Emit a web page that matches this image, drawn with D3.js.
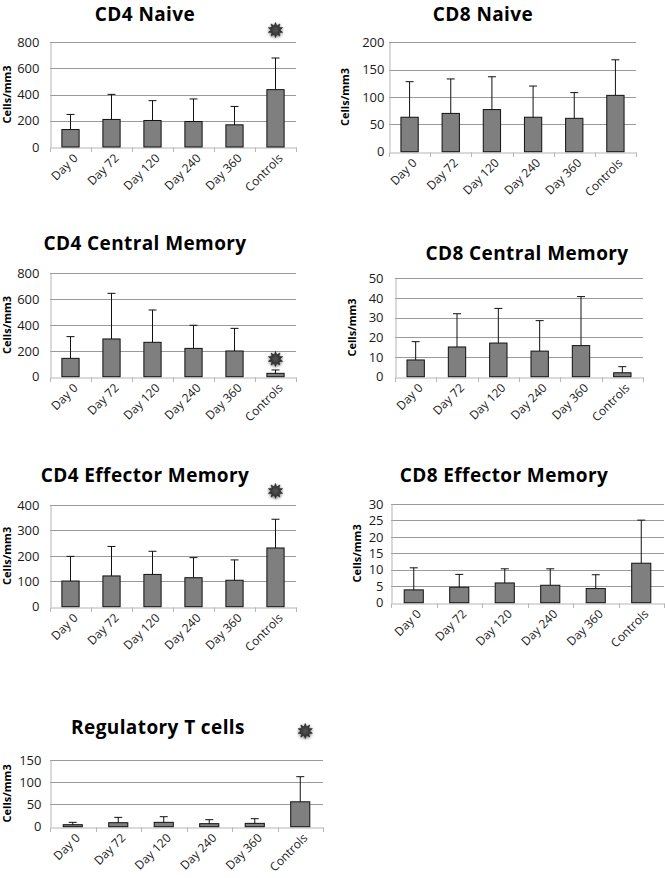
<!DOCTYPE html>
<html><head><meta charset="utf-8">
<script src="https://cdn.jsdelivr.net/npm/d3@7"></script>
<style>
html,body{margin:0;padding:0;background:#fff;}
svg{display:block;}
</style></head>
<body>
<svg id="chart" width="665" height="878"></svg>
<script>
// ---- data ----
const categories = ["Day 0","Day 72","Day 120","Day 240","Day 360","Controls"];
const yLabel = "Cells/mm3";

const cd4NaiveMean = [133, 210, 202, 194, 169, 437];
const cd4NaiveUpper = [248, 401, 353, 366, 309, 678];
const cd4NaiveTicks = [0, 200, 400, 600, 800];

const cd8NaiveMean = [63, 70, 77, 63, 61, 103];
const cd8NaiveUpper = [128, 133, 137, 120, 108, 168];
const cd8NaiveTicks = [0, 50, 100, 150, 200];

const cd4CentralMean = [142, 292, 266, 219, 199, 26];
const cd4CentralUpper = [310, 645, 516, 398, 374, 52];
const cd4CentralTicks = [0, 200, 400, 600, 800];

const cd8CentralMean = [8.5, 15.1, 17.1, 13.0, 15.8, 2.0];
const cd8CentralUpper = [17.8, 32.0, 34.7, 28.5, 40.7, 5.1];
const cd8CentralTicks = [0, 10, 20, 30, 40, 50];

const cd4EffectorMean = [101, 121, 127, 114, 104, 231];
const cd4EffectorUpper = [198, 237, 218, 193, 184, 344];
const cd4EffectorTicks = [0, 100, 200, 300, 400];

const cd8EffectorMean = [3.9, 4.7, 6.0, 5.3, 4.3, 12.0];
const cd8EffectorUpper = [10.6, 8.6, 10.3, 10.3, 8.5, 25.1];
const cd8EffectorTicks = [0, 5, 10, 15, 20, 25, 30];

const tregMean = [4.5, 9, 9.8, 6.8, 7.5, 56];
const tregUpper = [9.8, 21, 22.5, 15.8, 18, 112.5];
const tregTicks = [0, 50, 100, 150];

const titles = ["CD4 Naive","CD8 Naive","CD4 Central Memory","CD8 Central Memory",
                "CD4 Effector Memory","CD8 Effector Memory","Regulatory T cells"];
const significant = [true, false, true, false, true, false, true];

// ---- layout (positions only) ----
const panels = [
  {mean: cd4NaiveMean, upper: cd4NaiveUpper, ticks: cd4NaiveTicks,
   x0: 50, x1: 296, yTop: 42, yBot: 147, tx: 145, ty: 20.5, lx: 7, gap: 11, starY: 30},
  {mean: cd8NaiveMean, upper: cd8NaiveUpper, ticks: cd8NaiveTicks,
   x0: 389, x1: 636, yTop: 42.3, yBot: 151.7, tx: 483, ty: 20.5, lx: 345, gap: 5},
  {mean: cd4CentralMean, upper: cd4CentralUpper, ticks: cd4CentralTicks,
   x0: 50, x1: 296, yTop: 273.3, yBot: 376.7, tx: 145, ty: 249.5, lx: 7, gap: 11, starY: 359},
  {mean: cd8CentralMean, upper: cd8CentralUpper, ticks: cd8CentralTicks,
   x0: 395, x1: 643, yTop: 278.3, yBot: 376.7, tx: 527, ty: 259.5, lx: 352, gap: 12},
  {mean: cd4EffectorMean, upper: cd4EffectorUpper, ticks: cd4EffectorTicks,
   x0: 50, x1: 296, yTop: 505, yBot: 606.7, tx: 145, ty: 481.5, lx: 7, gap: 11, starY: 491},
  {mean: cd8EffectorMean, upper: cd8EffectorUpper, ticks: cd8EffectorTicks,
   x0: 391, x1: 664, yTop: 504, yBot: 602.7, tx: 504, ty: 481.5, lx: 357, gap: 8},
  {mean: tregMean, upper: tregUpper, ticks: tregTicks,
   x0: 50, x1: 323, yTop: 760, yBot: 826.7, tx: 158, ty: 733.5, lx: 7, gap: 9, starY: 731, starDx: 5}
];

const svg = d3.select("#chart");
const FONT = "'Open Sans', 'Liberation Sans', sans-serif";

// star glow filter
const defs = svg.append("defs");
const f = defs.append("filter").attr("id","glow").attr("x","-50%").attr("y","-50%").attr("width","200%").attr("height","200%");
f.append("feGaussianBlur").attr("in","SourceAlpha").attr("stdDeviation",1.5).attr("result","b");
f.append("feOffset").attr("in","b").attr("dx",0).attr("dy",1).attr("result","o");
f.append("feComponentTransfer").attr("in","o").attr("result","o2")
  .append("feFuncA").attr("type","linear").attr("slope",0.6);
const m = f.append("feMerge");
m.append("feMergeNode").attr("in","o2");
m.append("feMergeNode").attr("in","SourceGraphic");
const rg = defs.append("radialGradient").attr("id","starFill");
rg.append("stop").attr("offset","0%").attr("stop-color","#555");
rg.append("stop").attr("offset","60%").attr("stop-color","#3a3a3a");
rg.append("stop").attr("offset","100%").attr("stop-color","#222");

function starPath(cx, cy, ro, ri, n) {
  const pts = [];
  for (let i = 0; i < n * 2; i++) {
    const r = i % 2 === 0 ? ro : ri;
    const a = Math.PI * i / n - Math.PI / 2;
    pts.push([cx + r * Math.cos(a), cy + r * Math.sin(a)]);
  }
  return d3.line()(pts) + "Z";
}

panels.forEach((p, idx) => {
  const g = svg.append("g");
  const x = d3.scaleBand().domain(categories).range([p.x0, p.x1]).paddingInner(0).paddingOuter(0);
  const maxV = p.ticks[p.ticks.length - 1];
  const y = d3.scaleLinear().domain([0, maxV]).range([p.yBot, p.yTop]);

  // gridlines
  g.selectAll("line.grid").data(p.ticks.filter(t => t > 0)).join("line")
    .attr("x1", p.x0).attr("x2", p.x1)
    .attr("y1", d => Math.round(y(d)) + 0.5).attr("y2", d => Math.round(y(d)) + 0.5)
    .attr("stroke", "#9a9a9a").attr("stroke-width", 1);

  // y axis
  const yAxis = d3.axisLeft(y).tickValues(p.ticks).tickSize(0).tickPadding(p.gap);
  const ya = g.append("g").attr("transform", `translate(${p.x0 + 0.5},0)`).call(yAxis);
  ya.select(".domain").attr("stroke", "#b5b5b5");
  ya.selectAll("text").attr("font-family", FONT).attr("font-size", 13).attr("fill", "#1a1a1a");

  // x axis
  const xAxis = d3.axisBottom(x).tickSize(0).tickFormat("");
  const xa = g.append("g").attr("transform", `translate(0,${Math.round(p.yBot) + 0.5})`).call(xAxis);
  xa.select(".domain").attr("stroke", "#b5b5b5");
  xa.selectAll(".tick").remove();
  // boundary ticks
  const bounds = categories.map(c => x(c)).concat([p.x1]);
  g.selectAll("line.xt").data(bounds).join("line")
    .attr("x1", d => Math.round(d) + 0.5).attr("x2", d => Math.round(d) + 0.5)
    .attr("y1", Math.round(p.yBot) + 0.5).attr("y2", Math.round(p.yBot) + 5)
    .attr("stroke", "#b5b5b5");

  // x labels
  g.selectAll("text.xl").data(categories).join("text")
    .attr("transform", d => `translate(${x(d) + x.bandwidth() / 2 + 8},${p.yBot + 12}) rotate(-45)`)
    .attr("text-anchor", "end")
    .attr("font-family", FONT).attr("font-size", 12).attr("fill", "#1a1a1a")
    .text(d => d);

  // bars
  const bw = x.bandwidth() * 0.42;
  const data = categories.map((c, i) => ({c, v: p.mean[i], u: p.upper[i]}));
  g.selectAll("rect.bar").data(data).join("rect")
    .attr("x", d => x(d.c) + x.bandwidth() / 2 - bw / 2)
    .attr("y", d => y(d.v))
    .attr("width", bw)
    .attr("height", d => y(0) - y(d.v))
    .attr("fill", "#7f7f7f").attr("stroke", "#111").attr("stroke-width", 1);

  // error bars (upper only)
  g.selectAll("line.err").data(data).join("line")
    .attr("x1", d => x(d.c) + x.bandwidth() / 2).attr("x2", d => x(d.c) + x.bandwidth() / 2)
    .attr("y1", d => y(d.v)).attr("y2", d => y(d.u))
    .attr("stroke", "#111").attr("stroke-width", 1);
  g.selectAll("line.cap").data(data).join("line")
    .attr("x1", d => x(d.c) + x.bandwidth() / 2 - 4).attr("x2", d => x(d.c) + x.bandwidth() / 2 + 4)
    .attr("y1", d => y(d.u)).attr("y2", d => y(d.u))
    .attr("stroke", "#111").attr("stroke-width", 1);

  // title
  g.append("text").attr("x", p.tx).attr("y", p.ty).attr("text-anchor", "middle")
    .attr("font-family", FONT).attr("font-weight", "bold").attr("font-size", 19)
    .attr("letter-spacing", 0.4).attr("fill", "#000")
    .text(titles[idx]);

  // y label
  g.append("text")
    .attr("transform", `translate(${p.lx + 4},${(p.yTop + p.yBot) / 2}) rotate(-90)`)
    .attr("text-anchor", "middle")
    .attr("font-family", FONT).attr("font-weight", "bold").attr("font-size", 11).attr("fill", "#000")
    .text(yLabel);

  // significance star
  if (significant[idx]) {
    const cx = x("Controls") + x.bandwidth() / 2 + (p.starDx || 0);
    g.append("path").attr("d", starPath(cx, p.starY, 7.5, 4.2, 10))
      .attr("fill", "url(#starFill)").attr("stroke", "#222").attr("stroke-width", 0.6)
      .attr("filter", "url(#glow)");
  }
});
</script>
</body></html>
